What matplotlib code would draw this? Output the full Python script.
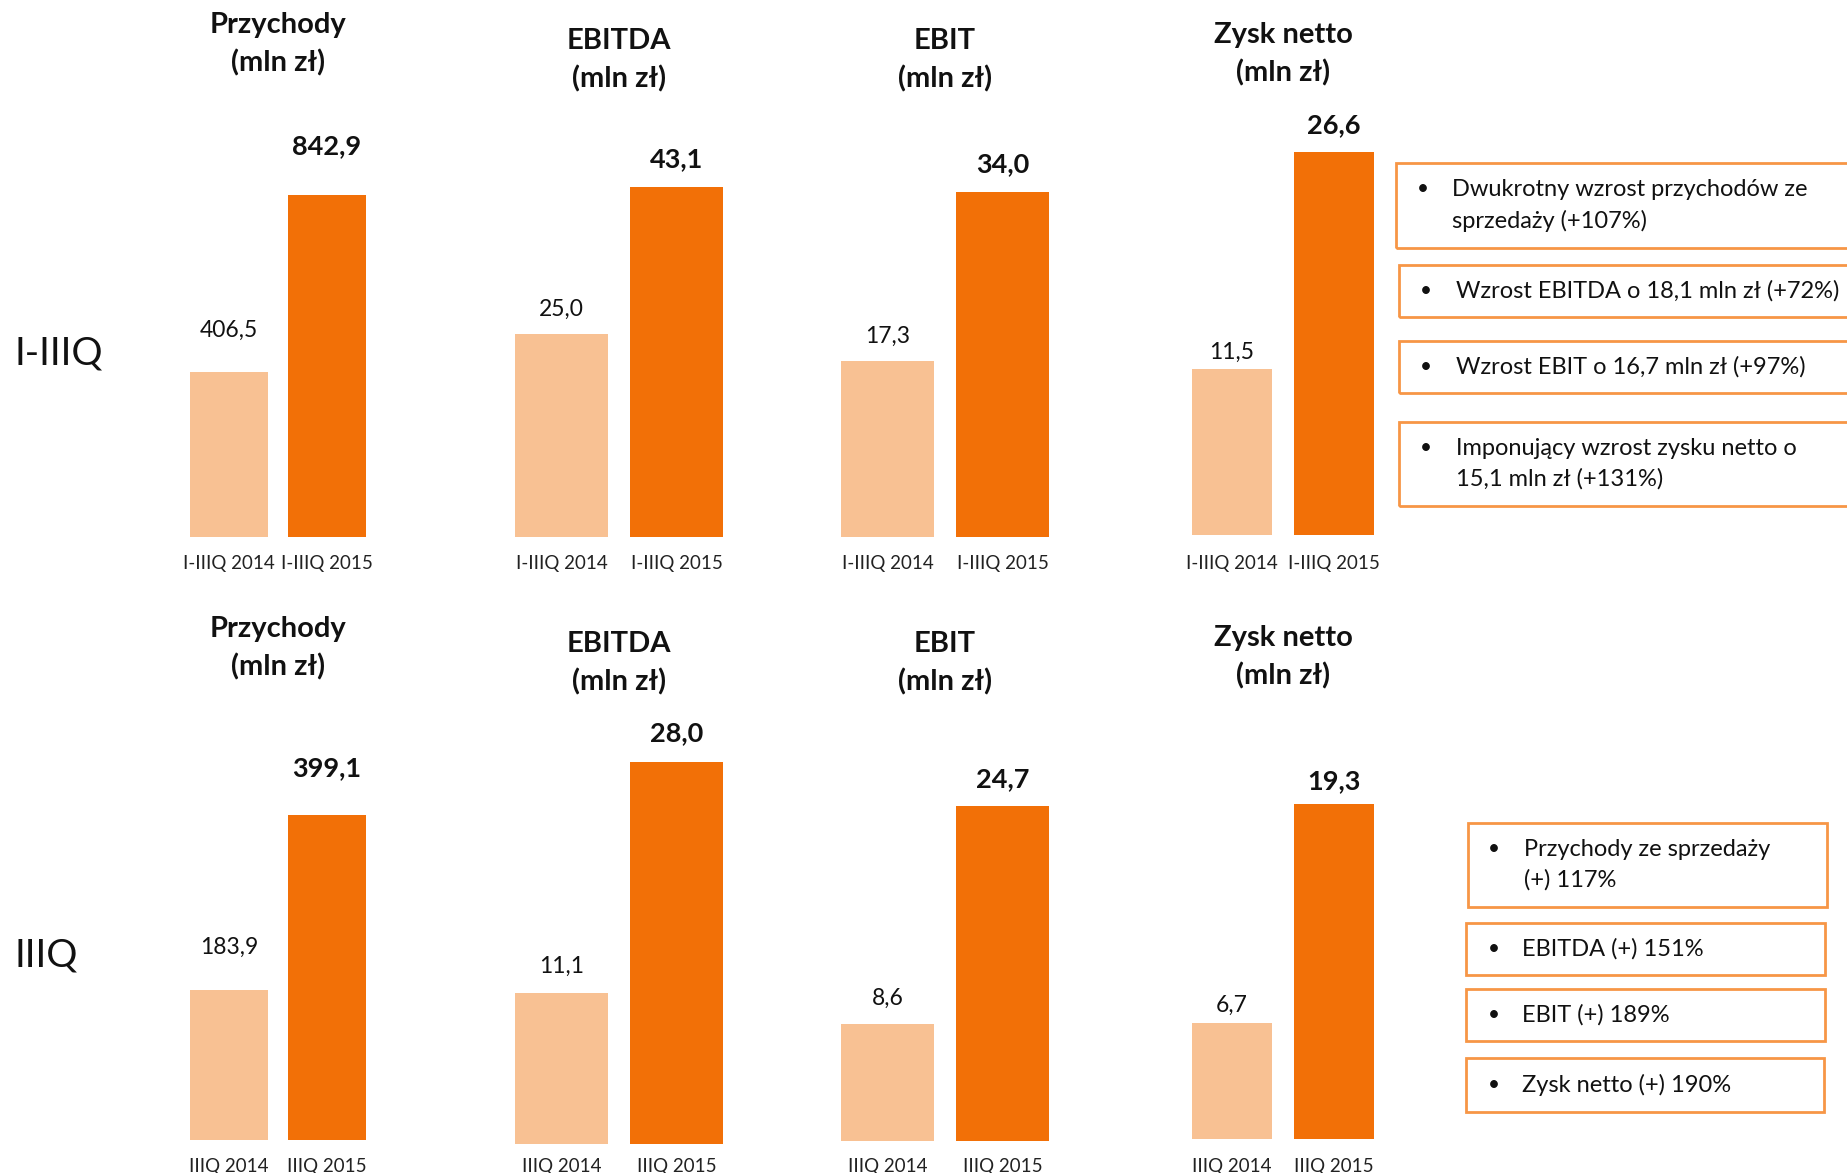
import matplotlib.pyplot as plt
from matplotlib.patches import Rectangle

plt.rcParams['font.family'] = ['Lato', 'DejaVu Sans']

# dane
metrics = ['Przychody', 'EBITDA', 'EBIT', 'Zysk netto']
ytd_2014 = [406.5, 25.0, 17.3, 11.5]
ytd_2015 = [842.9, 43.1, 34.0, 26.6]
q3_2014 = [183.9, 11.1, 8.6, 6.7]
q3_2015 = [399.1, 28.0, 24.7, 19.3]
ytd_ticks = ['I-IIIQ 2014', 'I-IIIQ 2015']
q3_ticks = ['IIIQ 2014', 'IIIQ 2015']
row_names = ['I-IIIQ', 'IIIQ']

ytd_notes = [
    'Dwukrotny wzrost przychodów ze\nsprzedaży (+107%)',
    'Wzrost EBITDA o 18,1 mln zł (+72%)',
    'Wzrost EBIT o 16,7 mln zł (+97%)',
    'Imponujący wzrost zysku netto o\n15,1 mln zł (+131%)',
]
q3_notes = [
    'Przychody ze sprzedaży\n(+) 117%',
    'EBITDA (+) 151%',
    'EBIT (+) 189%',
    'Zysk netto (+) 190%',
]

LIGHT = '#F8C193'
DARK = '#F27007'
EDGE = '#F79646'

W, H = 1847, 1173
fig = plt.figure(figsize=(W / 100, H / 100), dpi=100)


def fx(x):
    return x / W


def fy(y):
    return 1 - y / H


# uklad kolumn w pikselach: lewy slupek (od, do), prawy slupek (od, do)
cols = [(190, 268, 288, 366), (515, 608, 630, 723),
        (841, 934, 956, 1049), (1192, 1272, 1294, 1374)]

rows = [
    dict(v14=ytd_2014, v15=ytd_2015, ticks=ytd_ticks, tick_y=537,
         base=[537, 537, 537, 535], top=[195, 187, 192, 152],
         title_y=[44, 60, 60, 54], gap14=[42, 25, 25, 17], gap15=[49, 28, 28, 27],
         name_y=353),
    dict(v14=q3_2014, v15=q3_2015, ticks=q3_ticks, tick_y=1140,
         base=[1140, 1144, 1141, 1139], top=[815, 762, 806, 804],
         title_y=[648, 663, 663, 657], gap14=[43, 26, 26, 17], gap15=[47, 29, 27, 23],
         name_y=956),
]

for r, row in enumerate(rows):
    for i, (a, b, c, d) in enumerate(cols):
        base, top = row['base'][i], row['top'][i]
        ax = fig.add_axes([fx(a), fy(base), (d - a) / W, (base - top) / H])
        w = (b - a) / ((c + d) / 2 - (a + b) / 2)
        v14, v15 = row['v14'][i], row['v15'][i]
        ax.bar([0, 1], [v14, v15], width=w, color=[LIGHT, DARK])
        ax.set_xlim(-w / 2, 1 + w / 2)
        ax.set_ylim(0, v15)
        ax.set_xticks([0, 1], row['ticks'])
        # podpisy osi w jednej linii dla calego wiersza
        pad = 13 - (base - row['tick_y']) * 0.72
        ax.tick_params(axis='x', length=0, pad=pad, labelsize=13.5, labelcolor='#222222')
        ax.set_yticks([])
        for s in ax.spines.values():
            s.set_visible(False)
        ax.patch.set_alpha(0)

        ax.annotate(f'{v14:.1f}'.replace('.', ','), xy=(0, v14),
                    xytext=(0, row['gap14'][i] * 0.72), textcoords='offset points',
                    ha='center', va='center', fontsize=16.5, color='#111111',
                    annotation_clip=False)
        ax.annotate(f'{v15:.1f}'.replace('.', ','), xy=(1, v15),
                    xytext=(0, row['gap15'][i] * 0.72), textcoords='offset points',
                    ha='center', va='center', fontsize=19.5, fontweight='bold',
                    color='#111111', annotation_clip=False)

        fig.text(fx((a + d) / 2), fy(row['title_y'][i]), f'{metrics[i]}\n(mln zł)',
                 ha='center', va='center', fontsize=21, fontweight='bold',
                 linespacing=1.5, color='#111111')

    fig.text(fx(14), fy(row['name_y']), row_names[r], ha='left', va='center',
             fontsize=28, color='#111111')


def note_box(x0, x1, y0, y1, text, bx, tx):
    fig.patches.append(Rectangle((fx(x0), fy(y1)), (x1 - x0) / W, (y1 - y0) / H,
                                 transform=fig.transFigure, fill=False,
                                 edgecolor=EDGE, linewidth=2, clip_on=False))
    yc = fy((y0 + y1) / 2)
    n = text.count('\n') + 1
    fig.text(fx(bx), fy((y0 + y1) / 2 - (n - 1) * 16), '•', ha='left', va='center',
             fontsize=15, color='#111111')
    fig.text(fx(tx), yc, text, ha='left', va='center', fontsize=17,
             linespacing=1.5, color='#111111')


# ramki z komentarzami - narastajaco
ytd_boxes = [(1396, 163, 248, 1417, 1452), (1399, 265, 317, 1420, 1456),
             (1399, 341, 393, 1420, 1456), (1399, 422, 506, 1420, 1456)]
for (x0, y0, y1, bx, tx), txt in zip(ytd_boxes, ytd_notes):
    note_box(x0, W + 20, y0, y1, txt, bx, tx)

# ramki z komentarzami - trzeci kwartal
q3_boxes = [(1468, 1827, 823, 907, 1488, 1524), (1466, 1825, 923, 975, 1488, 1522),
            (1466, 1825, 989, 1041, 1488, 1522), (1466, 1824, 1058, 1112, 1488, 1522)]
for (x0, x1, y0, y1, bx, tx), txt in zip(q3_boxes, q3_notes):
    note_box(x0, x1, y0, y1, txt, bx, tx)

fig.savefig('out.png', dpi=100, facecolor='white')
